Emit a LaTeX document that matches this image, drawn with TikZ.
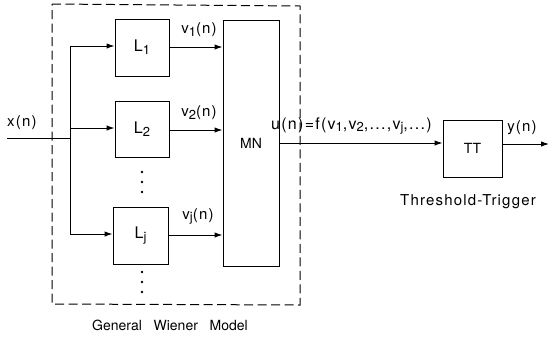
\documentclass[tikz,border=0pt]{standalone}
\usepackage{fontspec}
\setmainfont{TeX Gyre Heros}
\newfontfamily\widefont[LetterSpace=8]{TeX Gyre Heros}
\usetikzlibrary{arrows.meta}
\newcommand{\mysub}[1]{\raisebox{-0.35ex}{\fontsize{13}{14}\selectfont #1}}
\begin{document}
\begin{tikzpicture}[x=1pt,y=-1pt,
  blk/.style={draw,line width=1pt,inner sep=0pt,font=\fontsize{14}{16}\selectfont},
  arr/.style={line width=1pt,-{Latex[length=8pt,width=5.5pt]}},
  ln/.style={line width=1pt},
  lbl/.style={font=\widefont\fontsize{15}{17}\selectfont,inner sep=1pt},
  dotc/.style={circle,fill,inner sep=0pt,minimum size=2.6pt}]
\useasboundingbox (0,0) rectangle (549,338);
% dashed box
\draw[line width=1pt,dash pattern=on 9pt off 4.5pt] (52,4) -- (300,6) -- (300,305) -- (52,304) -- cycle;
% blocks
\node[blk,minimum width=54pt,minimum height=57pt,font=\fontsize{16}{18}\selectfont] (L1) at (142,47.5) {L\mysub{1}};
\node[blk,minimum width=54pt,minimum height=56pt,font=\fontsize{16}{18}\selectfont] (L2) at (142,129) {L\mysub{2}};
\node[blk,minimum width=55pt,minimum height=57pt,font=\fontsize{16}{18}\selectfont] (Lj) at (140.5,235.5) {L\mysub{j}};
\node[blk,minimum width=56pt,minimum height=246pt] (MN) at (251,143) {MN};
\node[blk,minimum width=59pt,minimum height=57pt] (TT) at (472.5,148.5) {TT};
% input
\coordinate (in) at (7,138);
\coordinate (br) at (70,138);
\coordinate (b1) at (70,46);
\coordinate (bj) at (70,234);
\coordinate (b2) at (70,128);
\draw[ln] (in) -- (br);
\draw[ln] (b1) -- (bj);
\draw[arr] (b1) -- (L1.west |- b1);
\draw[arr] (b2) -- (L2.west |- b2);
\draw[arr] (bj) -- (Lj.west |- bj);
\node[lbl,anchor=south west] (xn) at (6,131) {x(n)};
% outputs of L
\draw[arr] (L1.east |- 0,47) -- (MN.west |- 0,47);
\draw[arr] (L2.east |- 0,130) -- (MN.west |- 0,130);
\draw[arr] (Lj.east |- 0,235) -- (MN.west |- 0,235);
\node[lbl,anchor=south] (v1) at (199,38) {v\mysub{1}(n)};
\node[lbl,anchor=south] (v2) at (199,121) {v\mysub{2}(n)};
\node[lbl,anchor=south] (vj) at (198,226) {v\mysub{j}(n)};
% dots
\node[dotc] (d1) at (142,172) {};
\node[dotc] (d2) at (142,182) {};
\node[dotc] (d3) at (142,192) {};
\node[dotc] (d4) at (142,272) {};
\node[dotc] (d5) at (142,282) {};
\node[dotc] (d6) at (142,292) {};
% MN to TT
\draw[arr] (MN.east |- 0,143) -- (TT.west |- 0,143);
\node[lbl,anchor=south west,font=\widefont\fontsize{16}{18}\selectfont] (un) at (270,136) {u(n)=f(v\mysub{1},v\mysub{2},...,v\mysub{j},...)};
% output
\coordinate (out) at (549,144);
\draw[arr] (TT.east |- out) -- (out);
\node[lbl,anchor=south] (yn) at (522,136) {y(n)};
% captions
\node[lbl] (cap1) at (468,202) {Threshold-Trigger};
\node[lbl,font=\fontsize{14}{16}\selectfont] (cap2) at (170,325) {General\ \ \ Wiener\ \ \ Model};
\end{tikzpicture}
\end{document}
